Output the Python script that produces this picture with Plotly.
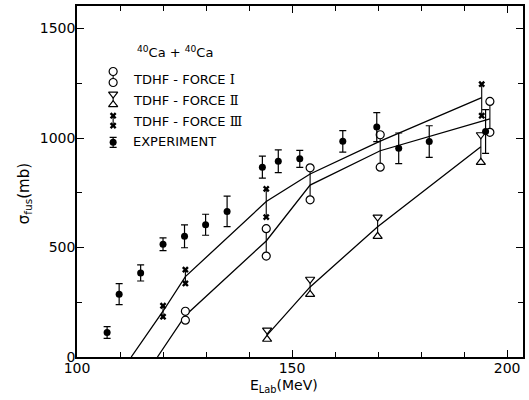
import plotly.graph_objects as go

# ---------------- data ----------------
exp_E = [107.0, 109.8, 114.8, 120.0, 125.0, 129.9, 134.9, 143.1, 146.8, 151.8, 161.8, 169.7, 174.8, 181.9, 195.0]
exp_sigma = [112, 287, 384, 515, 551, 604, 665, 867, 894, 905, 985, 1050, 953, 984, 1030]
exp_err = [27, 48, 37, 29, 52, 48, 70, 50, 52, 39, 49, 66, 70, 72, 100]

f1_E = [125.2, 144.0, 154.2, 170.5, 196.0]
f1_hi = [209, 586, 864, 1015, 1167]
f1_lo = [168, 461, 718, 867, 1026]
f1_curve_E = [118.7, 125.2, 144.0, 154.2, 170.5, 196.0]
f1_curve_s = [0, 190, 530, 785, 942, 1088]

f2_E = [144.2, 154.2, 169.9, 193.9]
f2_hi = [123, 355, 639, 1015]
f2_lo = [81, 286, 551, 889]
f2_curve_E = [144.2, 154.2, 169.9, 193.9]
f2_curve_s = [100, 320, 595, 960]

f3_E = [120.0, 125.2, 144.0, 194.1]
f3_hi = [234, 399, 768, 1246]
f3_lo = [184, 336, 639, 1102]
f3_curve_E = [112.6, 120.0, 125.2, 144.0, 154.2, 170.5, 194.1]
f3_curve_s = [0, 209, 367, 710, 836, 986, 1185]

legend_labels = ["TDHF - FORCE <span style=\"font-family:'DejaVu Serif'\">Ⅰ</span>",
                 "TDHF - FORCE <span style=\"font-family:'DejaVu Serif'\">Ⅱ</span>",
                 "TDHF - FORCE <span style=\"font-family:'DejaVu Serif'\">Ⅲ</span>",
                 "EXPERIMENT"]
reaction_label = "<sup>40</sup>Ca + <sup>40</sup>Ca"
y_title = "σ<sub>fus</sub>(mb)"
x_title = "E<sub>Lab</sub>(MeV)"

# legend key layout in plot-area pixel units (x from left, y from top)
key_x = 36.3
key_rows = [[65.7, 76.7], [88.3, 99.0], [110.0, 120.0], [136.7]]
text_x = 54.7
text_rows = [73.3, 94.3, 115.7, 136.0]
title_pos = (58, 45.7)

BLACK = "black"
FONT = "DejaVu Sans"

fig = go.Figure()

def pair_connectors(E, lo, hi):
    xs, ys = [], []
    for e, a, b in zip(E, lo, hi):
        xs += [e, e, None]
        ys += [a, b, None]
    return xs, ys

# curves
for cx, cy in [(f1_curve_E, f1_curve_s), (f2_curve_E, f2_curve_s), (f3_curve_E, f3_curve_s)]:
    fig.add_trace(go.Scatter(x=cx, y=cy, mode="lines", line=dict(color=BLACK, width=1.3),
                             showlegend=False, hoverinfo="skip"))

# vertical connectors between paired markers
for E, lo, hi in [(f1_E, f1_lo, f1_hi), (f2_E, f2_lo, f2_hi), (f3_E, f3_lo, f3_hi)]:
    xs, ys = pair_connectors(E, lo, hi)
    fig.add_trace(go.Scatter(x=xs, y=ys, mode="lines", line=dict(color=BLACK, width=1.1),
                             showlegend=False, hoverinfo="skip"))

open_marker = dict(color="white", line=dict(color=BLACK, width=1.2))

# Force I circles
fig.add_trace(go.Scatter(x=f1_E + f1_E, y=f1_hi + f1_lo, mode="markers",
                         marker=dict(symbol="circle", size=8, **open_marker), showlegend=False))
# Force II triangles
fig.add_trace(go.Scatter(x=f2_E, y=f2_hi, mode="markers",
                         marker=dict(symbol="triangle-down", size=8, **open_marker), showlegend=False))
fig.add_trace(go.Scatter(x=f2_E, y=f2_lo, mode="markers",
                         marker=dict(symbol="triangle-up", size=8, **open_marker), showlegend=False))
# Force III crosses
fig.add_trace(go.Scatter(x=f3_E + f3_E, y=f3_hi + f3_lo, mode="markers",
                         marker=dict(symbol="x", size=6, color=BLACK, line=dict(width=0)),
                         showlegend=False))
# Experiment
fig.add_trace(go.Scatter(x=exp_E, y=exp_sigma, mode="markers",
                         marker=dict(symbol="circle", size=7, color=BLACK),
                         error_y=dict(type="data", array=exp_err, color=BLACK, thickness=1.2, width=3.5),
                         showlegend=False))

# ---- custom legend keys on a pixel overlay axis ----
kx = dict(xaxis="x2", yaxis="y2", showlegend=False, hoverinfo="skip")
fig.add_trace(go.Scatter(x=[key_x, key_x], y=key_rows[0], mode="lines+markers",
                         line=dict(color=BLACK, width=1.1),
                         marker=dict(symbol="circle", size=8, **open_marker), **kx))
fig.add_trace(go.Scatter(x=[key_x, key_x], y=key_rows[1], mode="lines",
                         line=dict(color=BLACK, width=1.1), **kx))
fig.add_trace(go.Scatter(x=[key_x], y=[key_rows[1][0]], mode="markers",
                         marker=dict(symbol="triangle-down", size=8, **open_marker), **kx))
fig.add_trace(go.Scatter(x=[key_x], y=[key_rows[1][1]], mode="markers",
                         marker=dict(symbol="triangle-up", size=8, **open_marker), **kx))
fig.add_trace(go.Scatter(x=[key_x, key_x], y=key_rows[2], mode="lines+markers",
                         line=dict(color=BLACK, width=1.1),
                         marker=dict(symbol="x", size=6, color=BLACK, line=dict(width=0)), **kx))
fig.add_trace(go.Scatter(x=[key_x], y=key_rows[3], mode="markers",
                         marker=dict(symbol="circle", size=7, color=BLACK),
                         error_y=dict(type="constant", value=5, color=BLACK, thickness=1.2, width=3.5), **kx))

for lab, ty in zip(legend_labels, text_rows):
    fig.add_annotation(x=text_x, y=ty, xref="x2", yref="y2", text=lab, showarrow=False,
                       xanchor="left", yanchor="middle", font=dict(family=FONT, size=13, color=BLACK))
fig.add_annotation(x=title_pos[0], y=title_pos[1], xref="x2", yref="y2", text=reaction_label,
                   showarrow=False, xanchor="left", yanchor="middle",
                   font=dict(family=FONT, size=13, color=BLACK))

# axis titles (paper coordinates)
fig.add_annotation(x=-0.118, y=0.465, xref="paper", yref="paper", text=y_title, textangle=-90,
                   showarrow=False, xanchor="center", yanchor="middle",
                   font=dict(family=FONT, size=15, color=BLACK))
fig.add_annotation(x=0.464, y=-0.082, xref="paper", yref="paper", text=x_title,
                   showarrow=False, xanchor="center", yanchor="middle",
                   font=dict(family=FONT, size=14, color=BLACK))

axis_common = dict(showgrid=False, zeroline=False, showline=True, linecolor=BLACK, linewidth=1.5,
                   mirror="ticks", ticks="inside", tickcolor=BLACK, tickwidth=1.2, ticklen=7,
                   tickfont=dict(family=FONT, size=14, color=BLACK))

fig.update_layout(
    width=529, height=400,
    margin=dict(l=77, r=4, t=5, b=43),
    plot_bgcolor="white", paper_bgcolor="white",
    xaxis=dict(range=[100, 203.7], tick0=100, dtick=50, ticklabelstandoff=-3,
               minor=dict(dtick=10, ticks="inside", ticklen=5, tickcolor=BLACK, tickwidth=1.2),
               **axis_common),
    yaxis=dict(range=[0, 1603], tick0=0, dtick=500, ticklabelstandoff=-3,
               minor=dict(dtick=250, ticks="inside", ticklen=5, tickcolor=BLACK, tickwidth=1.2),
               **axis_common),
    xaxis2=dict(overlaying="x", range=[0, 448], visible=False, fixedrange=True),
    yaxis2=dict(overlaying="y", range=[352, 0], visible=False, fixedrange=True),
)

fig.write_html("out.html", config={"displayModeBar": False},
               post_script="document.body.style.margin='0';document.body.style.overflow='hidden';")
